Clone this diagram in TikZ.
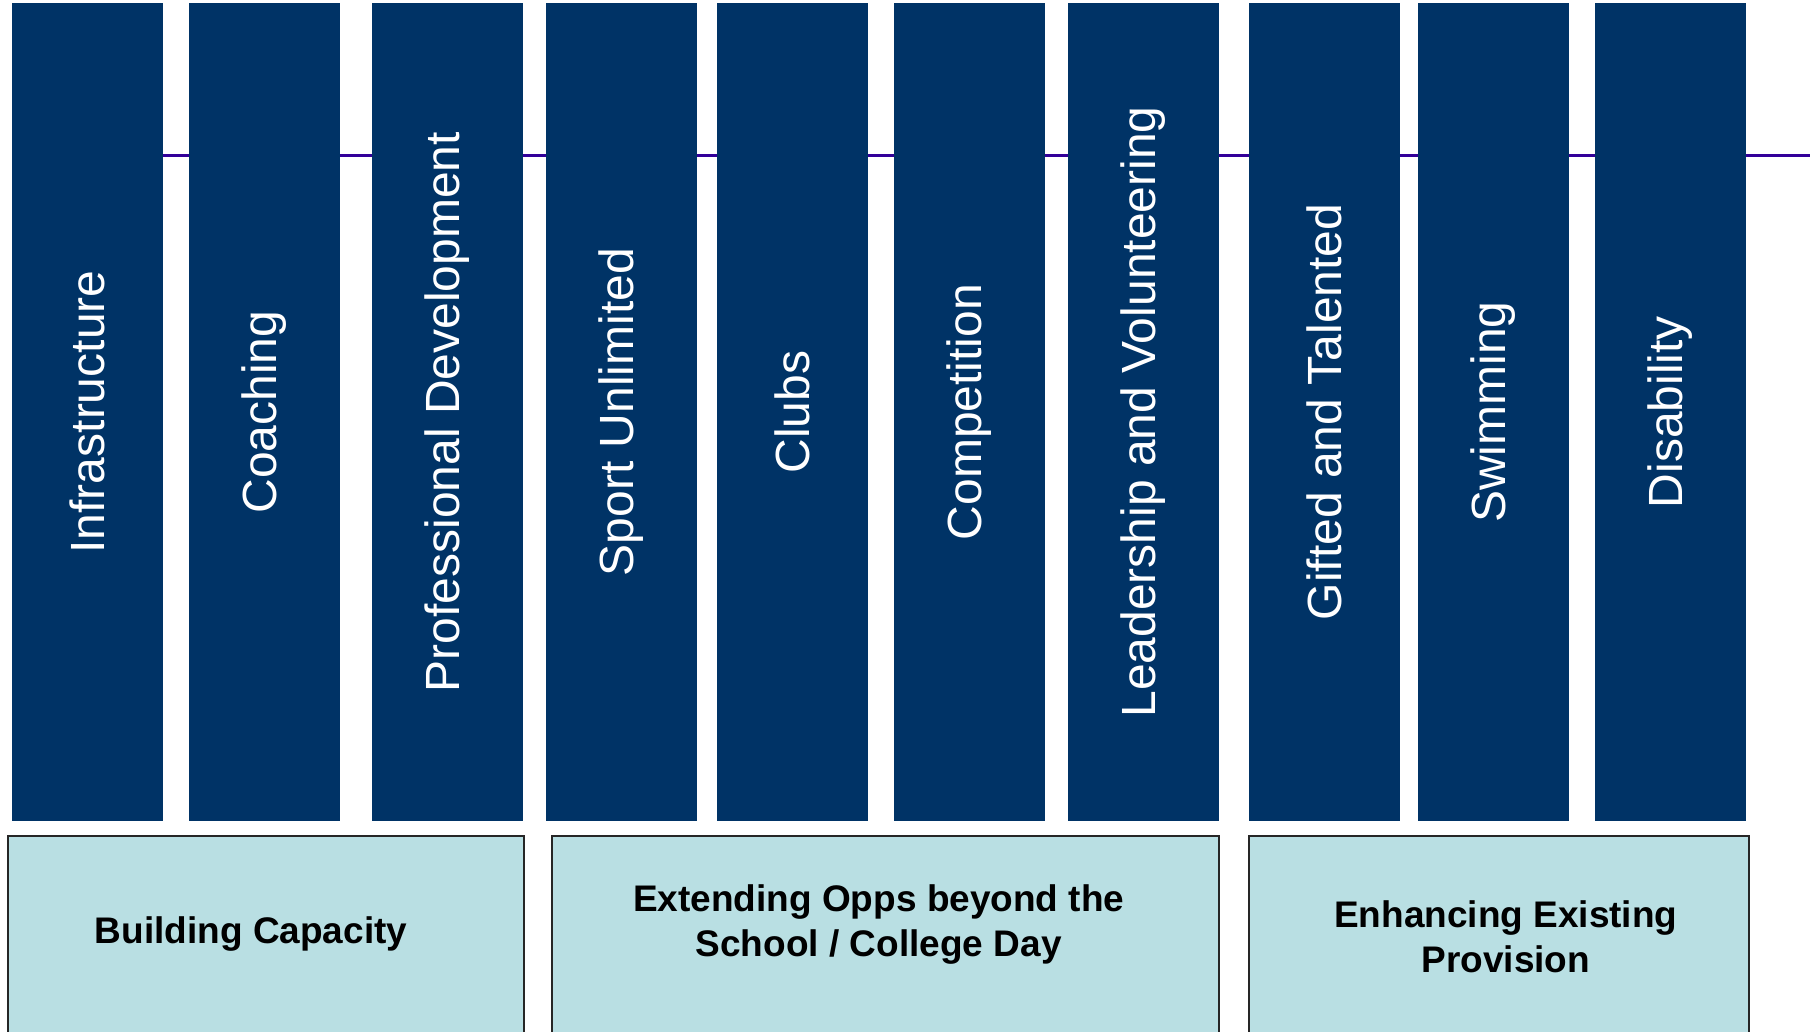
\documentclass[tikz,border=0pt]{standalone}
\usepackage{fontspec}
\setmainfont{Liberation Sans}
\definecolor{barblue}{RGB}{0,51,102}
\definecolor{boxfill}{RGB}{185,223,227}
\definecolor{linepurple}{RGB}{51,0,153}
\begin{document}
\begin{tikzpicture}[x=0.5pt,y=-0.5pt,
  pillar/.style={rectangle, fill=barblue, text=white, rotate=90,
    minimum width=409pt, minimum height=75.5pt, inner sep=0pt,
    font=\fontsize{24}{28}\selectfont},
  groupbox/.style={rectangle, draw=black!85, line width=0.9pt, fill=boxfill,
    inner sep=0pt, minimum height=102pt},
  grouplabel/.style={align=center, inner sep=0pt,
    font=\bfseries\fontsize{18.5}{22.35}\selectfont}]
\useasboundingbox (0,0) rectangle (1814,1032);
\clip (0,0) rectangle (1814,1032);
% horizontal line behind the pillars
\coordinate (ls) at (12,156);
\coordinate (le) at (1810,156);
\draw[linepurple, line width=1.5pt] (ls) -- (le);
% pillars
\node[pillar] (b1)  at (87.5,412)   {Infrastructure};
\node[pillar] (b2)  at (264.5,412)  {Coaching};
\node[pillar] (b3)  at (447.5,412)  {Professional Development};
\node[pillar] (b4)  at (621.5,412)  {Sport Unlimited};
\node[pillar] (b5)  at (792.5,412)  {Clubs};
\node[pillar] (b6)  at (969.5,412)  {Competition};
\node[pillar] (b7)  at (1143.5,412) {Leadership and Volunteering};
\node[pillar] (b8)  at (1324.5,412) {Gifted and Talented};
\node[pillar] (b9)  at (1493.5,412) {Swimming};
\node[pillar] (b10) at (1670.5,412) {Disability};
% group boxes
\node[groupbox, minimum width=258pt]   (g1) at (266,938)    {};
\node[groupbox, minimum width=333.5pt] (g2) at (885.5,938)  {};
\node[groupbox, minimum width=250pt]   (g3) at (1499,938)   {};
% group labels
\node[grouplabel] (t1) at (251,933.7)   {Building Capacity};
\node[grouplabel] (t2) at (878.7,924.6) {Extending Opps beyond the\\School / College Day};
\node[grouplabel] (t3) at (1505.8,936.5) {Enhancing Existing\\Provision};
\end{tikzpicture}
\end{document}
